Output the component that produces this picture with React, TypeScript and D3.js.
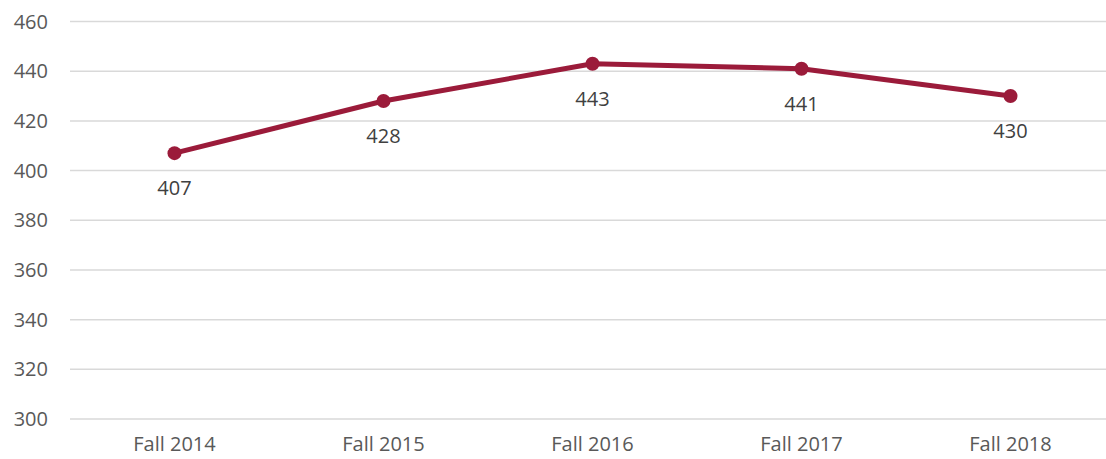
import React from 'react';
import * as d3 from 'd3';

const terms = ['Fall 2014', 'Fall 2015', 'Fall 2016', 'Fall 2017', 'Fall 2018'];
const values = [407, 428, 443, 441, 430];
const yTicks = [300, 320, 340, 360, 380, 400, 420, 440, 460];

const width = 1106;
const height = 459;

export default function App() {
  const xScale = d3.scaleBand<string>()
    .domain(terms)
    .range([70, 1115]);

  const yScale = d3.scaleLinear()
    .domain([300, 460])
    .range([419, 21.5]);

  const cx = (t: string) => (xScale(t) as number) + xScale.bandwidth() / 2;

  const lineGen = d3.line<number>()
    .x((d, i) => cx(terms[i]))
    .y(d => yScale(d));

  const font = "'Open Sans', sans-serif";

  return (
    <svg width={width} height={height} style={{ position: 'absolute', left: 0, top: 0, background: '#fff' }}>
      {/* gridlines */}
      {yTicks.map(t => (
        <line key={t} x1={70} x2={width} y1={yScale(t)} y2={yScale(t)} stroke="#d9d9d9" strokeWidth={1.5} />
      ))}
      {/* y labels */}
      {yTicks.map(t => (
        <text key={'l' + t} x={48} y={yScale(t)} dy="0.35em" textAnchor="end"
          fontFamily={font} fontSize={20} fill="#595959">{t}</text>
      ))}
      {/* x labels */}
      {terms.map(t => (
        <text key={t} x={cx(t)} y={451} textAnchor="middle"
          fontFamily={font} fontSize={20} fill="#595959">{t}</text>
      ))}
      <path d={lineGen(values) || ''} fill="none" stroke="#9b1b3a" strokeWidth={5} strokeLinejoin="round" strokeLinecap="round" />
      {values.map((v, i) => (
        <circle key={i} cx={cx(terms[i])} cy={yScale(v)} r={7} fill="#9b1b3a" />
      ))}
      {values.map((v, i) => (
        <text key={'d' + i} x={cx(terms[i])} y={yScale(v) + 35} dy="0.35em" textAnchor="middle"
          fontFamily={font} fontSize={20} fill="#404040">{v}</text>
      ))}
    </svg>
  );
}
